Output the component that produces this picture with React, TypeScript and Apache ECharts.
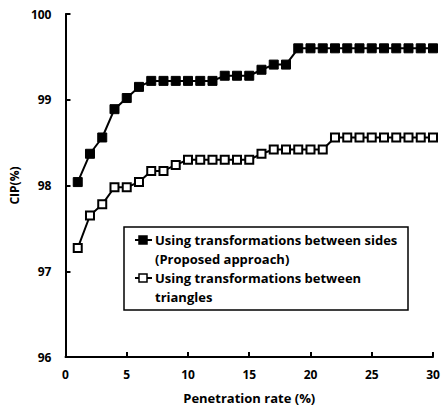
import React, { useEffect, useRef } from "react";
import * as echarts from "echarts";

const penetrationRates = [1, 2, 3, 4, 5, 6, 7, 8, 9, 10, 11, 12, 13, 14, 15, 16, 17, 18, 19, 20, 21, 22, 23, 24, 25, 26, 27, 28, 29, 30];
const proposedCIP = [98.04, 98.37, 98.56, 98.89, 99.02, 99.15, 99.22, 99.22, 99.22, 99.22, 99.22, 99.22, 99.28, 99.28, 99.28, 99.35, 99.41, 99.41, 99.6, 99.6, 99.6, 99.6, 99.6, 99.6, 99.6, 99.6, 99.6, 99.6, 99.6, 99.6];
const trianglesCIP = [97.27, 97.65, 97.78, 97.98, 97.98, 98.04, 98.17, 98.17, 98.24, 98.3, 98.3, 98.3, 98.3, 98.3, 98.3, 98.37, 98.42, 98.42, 98.42, 98.42, 98.42, 98.56, 98.56, 98.56, 98.56, 98.56, 98.56, 98.56, 98.56, 98.56];
const seriesNames = ["Using transformations between sides (Proposed approach)", "Using transformations between triangles"];
const legendLines = [
  ["Using transformations between sides", "(Proposed approach)"],
  ["Using transformations between", "triangles"],
];
const xAxisName = "Penetration rate (%)";
const yAxisName = "CIP(%)";

const FONT = "'Open Sans'";

export default function App() {
  const ref = useRef<HTMLDivElement>(null);
  useEffect(() => {
    if (!ref.current) return;
    const chart = echarts.init(ref.current, null, { renderer: "svg" });
    const legendX = 124, legendY = 227;
    const lineH = 19;
    const legendGraphics: any[] = [
      {
        type: "rect",
        shape: { x: legendX, y: legendY, width: 284, height: 83 },
        style: { fill: "#fff", stroke: "#000", lineWidth: 1.5 },
        z: 10,
      },
    ];
    legendLines.forEach((lines, i) => {
      const cy = legendY + 13 + i * 2 * lineH;
      legendGraphics.push({
        type: "line",
        shape: { x1: legendX + 11, y1: cy, x2: legendX + 28, y2: cy },
        style: { stroke: "#000", lineWidth: 2 },
        z: 11,
      });
      legendGraphics.push({
        type: "rect",
        shape: { x: legendX + 15, y: cy - 4, width: 8, height: 8 },
        style: { fill: i === 0 ? "#000" : "#fff", stroke: "#000", lineWidth: 1.5 },
        z: 12,
      });
      lines.forEach((t, j) => {
        legendGraphics.push({
          type: "text",
          x: legendX + 31,
          y: cy + j * lineH,
          style: {
            text: t,
            font: `bold 13px ${FONT}`,
            fill: "#000",
            verticalAlign: "middle",
            align: "left",
          },
          z: 12,
        });
      });
    });

    const labelStyle = { fontFamily: FONT, fontWeight: "bold" as const, fontSize: 12, color: "#000" };
    const nameStyle = { ...labelStyle, fontSize: 13 };

    chart.setOption({
      animation: false,
      backgroundColor: "#fff",
      grid: { left: 65, right: 10, top: 14, bottom: 57, containLabel: false },
      xAxis: {
        type: "value",
        min: 0,
        max: 30,
        interval: 5,
        name: xAxisName,
        nameLocation: "middle",
        nameGap: 34,
        nameTextStyle: nameStyle,
        axisLine: { show: true, lineStyle: { color: "#000", width: 2 } },
        axisTick: { show: true, inside: true, length: 5, lineStyle: { color: "#000", width: 2 } },
        axisLabel: { ...labelStyle, margin: 11 },
        splitLine: { show: false },
      },
      yAxis: {
        type: "value",
        min: 96,
        max: 100,
        interval: 1,
        name: yAxisName,
        nameLocation: "middle",
        nameGap: 43,
        nameRotate: 90,
        nameTextStyle: labelStyle,
        axisLine: { show: true, lineStyle: { color: "#000", width: 2 } },
        axisTick: { show: true, inside: true, length: 5, lineStyle: { color: "#000", width: 2 } },
        axisLabel: { ...labelStyle, margin: 14 },
        splitLine: { show: false },
      },
      series: [
        {
          name: seriesNames[0],
          type: "line",
          data: penetrationRates.map((x, i) => [x, proposedCIP[i]]),
          symbol: "rect",
          symbolSize: 9,
          lineStyle: { color: "#000", width: 2 },
          itemStyle: { color: "#000", borderColor: "#000", borderWidth: 1 },
        },
        {
          name: seriesNames[1],
          type: "line",
          data: penetrationRates.map((x, i) => [x, trianglesCIP[i]]),
          symbol: "rect",
          symbolSize: 8,
          lineStyle: { color: "#000", width: 2 },
          itemStyle: { color: "#fff", borderColor: "#000", borderWidth: 2 },
        },
      ],
      graphic: legendGraphics,
    });
    return () => chart.dispose();
  }, []);
  return <div ref={ref} style={{ width: 443, height: 414, position: "absolute", left: 0, top: 0 }} />;
}
